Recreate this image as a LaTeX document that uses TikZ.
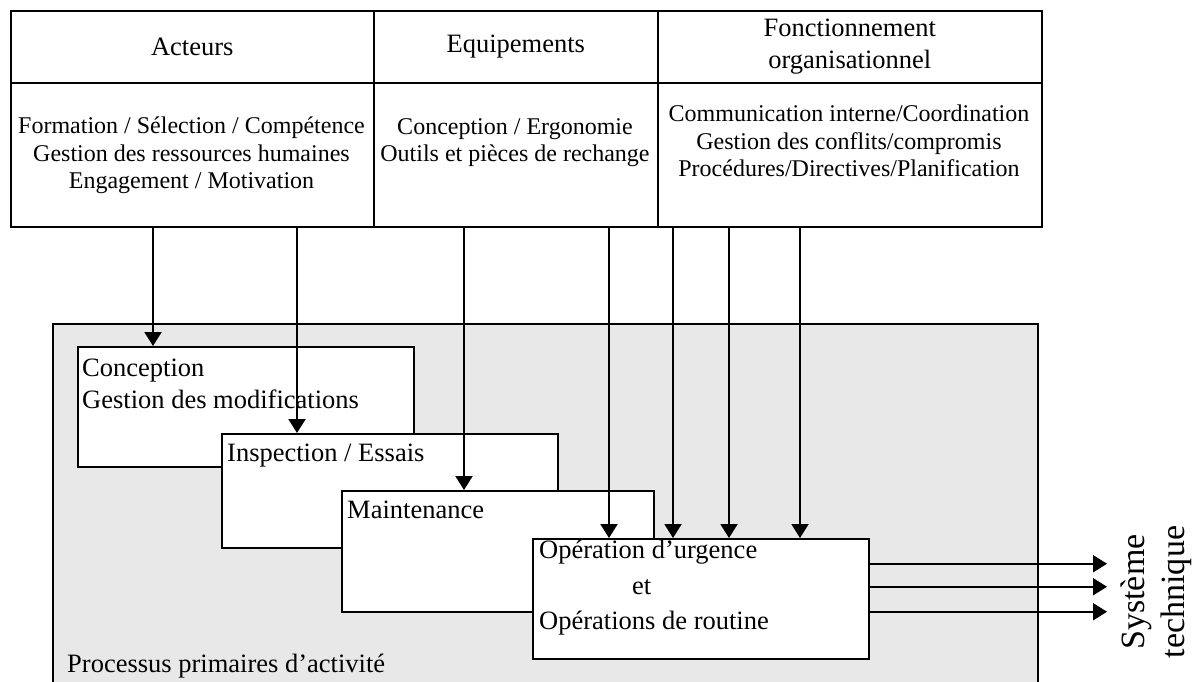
\documentclass[tikz,border=0pt]{standalone}
\usepackage{fontspec}
\setmainfont{Liberation Serif}
\usetikzlibrary{arrows.meta}
\definecolor{ProcGray}{HTML}{E8E8E8}
\tikzset{
  tabCell/.style={
    draw,
    line width=1.6pt,
    anchor=north west,
    inner sep=0pt,
    align=center,
    font=\fontsize{26.5pt}{32pt}\selectfont
  },
  tabText/.style={
    anchor=north,
    inner sep=0pt,
    align=center,
    font=\fontsize{24pt}{27.5pt}\selectfont
  },
  procBox/.style={
    draw,
    line width=1.5pt,
    fill=white,
    anchor=north west,
    inner sep=0pt
  },
  procText/.style={
    anchor=north west,
    inner sep=0pt,
    align=left,
    font=\fontsize{26.5pt}{32pt}\selectfont
  },
  procArrow/.style={
    line width=2pt,
    -{Triangle[length=14pt,width=17pt]}
  }
}

\begin{document}
\begin{tikzpicture}[x=1pt, y=-1pt]
  \useasboundingbox (0,0) rectangle (1201,681);
  \clip (0,0) rectangle (1201,681);

  % tableau des facteurs
  \node (hAct) [tabCell, minimum width=363pt, minimum height=72pt] at (10,10) {Acteurs};
  \node (hEqu) [tabCell, minimum width=284pt, minimum height=72pt] at (373,10) {Equipements};
  \node (hFon) [tabCell, minimum width=384pt, minimum height=72pt] at (657,10) {Fonctionnement\\organisationnel};
  \node (bAct) [tabCell, minimum width=363pt, minimum height=144pt] at (10,82) {};
  \node (bEqu) [tabCell, minimum width=284pt, minimum height=144pt] at (373,82) {};
  \node (bFon) [tabCell, minimum width=384pt, minimum height=144pt] at (657,82) {};

  \node (tAct) [tabText] at (191.5,117) {Formation / Sélection / Compétence\\Gestion des ressources humaines\\Engagement / Motivation};
  \node (tEqu) [tabText] at (515,118) {Conception / Ergonomie\\Outils et pièces de rechange};
  \node (tFon) [tabText] at (849,105) {Communication interne/Coordination\\Gestion des conflits/compromis\\Procédures/Directives/Planification};

  % processus primaires
  \node (proc) [draw, line width=1.5pt, fill=ProcGray, anchor=north west, inner sep=0pt,
    minimum width=985pt, minimum height=400pt] at (52,323) {};
  \node (procLbl) [anchor=base west, inner sep=0pt, font=\fontsize{26.5pt}{32pt}\selectfont] at (67,672) {Processus primaires d’activité};

  \node (conc) [procBox, minimum width=336pt, minimum height=120pt] at (77,346) {};
  \node (insp) [procBox, minimum width=336pt, minimum height=114pt] at (221,433) {};
  \node (maint) [procBox, minimum width=312pt, minimum height=121pt] at (341,490) {};
  \node (oper) [procBox, minimum width=336pt, minimum height=120pt] at (532,538) {};

  \node (tConc) [procText] at (82,359) {Conception\\Gestion des modifications};
  \node (tInsp) [procText] at (227,444) {Inspection / Essais};
  \node (tMaint) [procText] at (347,501) {Maintenance};
  \node (tOper) [procText, font=\fontsize{26.5pt}{35.5pt}\selectfont] at (539,540) {Opération d’urgence\\\hspace*{93pt}et\\Opérations de routine};

  % influences
  \foreach \x/\src/\dst in {153/bAct/conc, 297/bAct/insp, 464/bEqu/maint, 609/bEqu/oper,
    673/bFon/oper, 729/bFon/oper, 800/bFon/oper}
    \draw [procArrow] (\src.south -| \x,0) -- (\dst.north -| \x,0);

  % sorties
  \coordinate (sysTip) at (1107,586);
  \foreach \dy in {35,12,-13} {
    \path ([yshift=\dy pt]oper.east) coordinate (outS);
    \draw [procArrow] (outS) -- (outS -| sysTip);
  }
  \node (sysLbl) [rotate=90, align=center, inner sep=0pt, font=\fontsize{34pt}{40pt}\selectfont] at (1156,592) {Système\\technique};
\end{tikzpicture}
\end{document}
